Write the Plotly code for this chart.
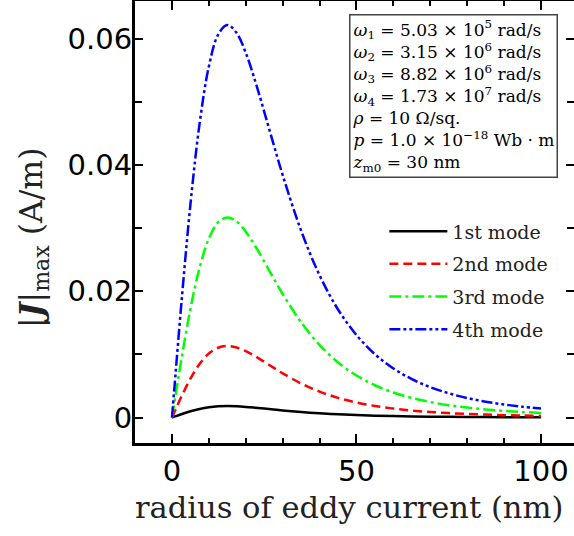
import plotly.graph_objects as go

# radius of eddy current (nm)
radius = [0, 1, 2.5, 5, 7.5, 10, 12.5, 15, 17.5, 20, 22.5, 25, 27.5, 30, 35, 40,
          45, 50, 55, 60, 65, 70, 75, 80, 85, 90, 95, 100]

# |J|max (A/m)
mode1 = [0, 0.000210, 0.000518, 0.000984, 0.001359, 0.001620, 0.001766, 0.00181,
         0.001774, 0.001681, 0.001554, 0.001410, 0.001262, 0.001118, 0.000861,
         0.000656, 0.000498, 0.000380, 0.000292, 0.000226, 0.000177, 0.000140,
         0.000112, 0.000090, 0.000073, 0.000060, 0.000050, 0.000041]
mode2 = [0, 0.001315, 0.003243, 0.006161, 0.008504, 0.010139, 0.011054, 0.01133,
         0.011103, 0.010524, 0.009729, 0.008826, 0.007898, 0.006997, 0.005391,
         0.004104, 0.003118, 0.002378, 0.001828, 0.001416, 0.001108, 0.000876,
         0.000699, 0.000563, 0.000458, 0.000376, 0.000310, 0.000258]
mode3 = [0, 0.003680, 0.009073, 0.017238, 0.023794, 0.028368, 0.030927, 0.0317,
         0.031066, 0.029446, 0.027221, 0.024694, 0.022098, 0.019578, 0.015083,
         0.011482, 0.008724, 0.006654, 0.005113, 0.003963, 0.003100, 0.002450,
         0.001956, 0.001575, 0.001281, 0.001052, 0.000869, 0.000723]
mode4 = [0, 0.00722, 0.01780, 0.03382, 0.04669, 0.05566, 0.06068, 0.0622,
         0.06096, 0.05778, 0.05341, 0.04845, 0.04336, 0.03841, 0.02960, 0.02253,
         0.01712, 0.01306, 0.01003, 0.00778, 0.00608, 0.00481, 0.00384, 0.00309,
         0.00251, 0.00206, 0.00170, 0.00142]

names = ["1st mode", "2nd mode", "3rd mode", "4th mode"]
colors = ["#000000", "#ff0000", "#00ff00", "#0000ff"]
dashes = ["solid", "9px,5px", "12px,4px,3px,4px", "11px,3px,3px,3px,3px,3px"]
series = [mode1, mode2, mode3, mode4]

info_lines = [
    "<i>ω</i><sub>1</sub> = 5.03 × 10<sup>5</sup> rad/s",
    "<i>ω</i><sub>2</sub> = 3.15 × 10<sup>6</sup> rad/s",
    "<i>ω</i><sub>3</sub> = 8.82 × 10<sup>6</sup> rad/s",
    "<i>ω</i><sub>4</sub> = 1.73 × 10<sup>7</sup> rad/s",
    "<i>ρ</i> = 10 Ω/sq.",
    "<i>p</i> = 1.0 × 10<sup>−18</sup> Wb · m",
    "<i>z</i><sub>m0</sub> = 30 nm",
]

serif = "DejaVu Serif, Liberation Serif, serif"
sans = "DejaVu Sans, Liberation Sans, sans-serif"

fig = go.Figure()
for i, (nm, ys) in enumerate(zip(names, series)):
    fig.add_trace(go.Scatter(
        x=radius, y=ys, mode="lines", name=nm, legendgroup=f"g{i}",
        line=dict(color=colors[i], width=2.5, dash=dashes[i], shape="spline"),
    ))

W, H = 574, 536
ml, mr, mt, mb = 135, 0, 1, 93

fig.update_layout(
    width=W, height=H,
    margin=dict(l=ml, r=mr, t=mt, b=mb),
    paper_bgcolor="white", plot_bgcolor="white",
    showlegend=True,
    legend=dict(x=0.568, y=0.522, xanchor="left", yanchor="top",
                bgcolor="rgba(0,0,0,0)", borderwidth=0,
                font=dict(family=serif, size=19, color="#222"),
                traceorder="grouped", tracegroupgap=5, itemwidth=58),
    xaxis=dict(range=[-10.03, 108.95], showgrid=False, zeroline=False,
               automargin=False, ticklabelstandoff=0,
               showline=True, linecolor="black", linewidth=3, mirror="ticks",
               ticks="inside", ticklen=9, tickwidth=2, tickcolor="black",
               tickvals=[0, 50, 100], ticktext=["0", "50", "100"],
               tickfont=dict(family=sans, size=29, color="black"),
               minor=dict(ticks="inside", ticklen=5, tickwidth=2,
                          tickcolor="black", dtick=10, tick0=0, showgrid=False)),
    yaxis=dict(range=[-0.00404, 0.06601], showgrid=False, zeroline=False,
               automargin=False, ticklabelstandoff=-6,
               showline=True, linecolor="black", linewidth=3, mirror="ticks",
               ticks="inside", ticklen=8, tickwidth=2, tickcolor="black",
               tickvals=[0, 0.02, 0.04, 0.06], ticktext=["0", "0.02", "0.04", "0.06"],
               tickfont=dict(family=sans, size=29, color="black"),
               minor=dict(ticks="inside", ticklen=7, tickwidth=2,
                          tickcolor="black", dtick=0.01, tick0=0, showgrid=False)),
)

pw = W - ml - mr
ph = H - mt - mb

annotations = [
    dict(text="<br>".join(info_lines), xref="paper", yref="paper",
         x=(349 - ml) / pw, y=(443 - 14) / ph, xanchor="left", yanchor="top",
         align="left", showarrow=False, bgcolor="white",
         bordercolor="#444", borderwidth=1.5, borderpad=2,
         font=dict(family=serif, size=17, color="black")),
    dict(text="radius of eddy current (nm)", xref="paper", yref="paper",
         x=(349 - ml) / pw, y=(443 - 508) / ph, xanchor="center", yanchor="middle",
         showarrow=False, font=dict(family=serif, size=30.5, color="#222")),
    dict(text="|<b><i>J</i></b>|<sub>max</sub> (A/m)", xref="paper", yref="paper",
         x=(33 - ml) / pw, y=(443 - 238) / ph, xanchor="center", yanchor="middle",
         textangle=-90, showarrow=False,
         font=dict(family=serif, size=31.5, color="#222")),
]
fig.update_layout(annotations=annotations)

fig.write_html("out.html", config={"displayModeBar": False},
               post_script="document.body.style.margin='0';document.body.style.overflow='hidden';")
